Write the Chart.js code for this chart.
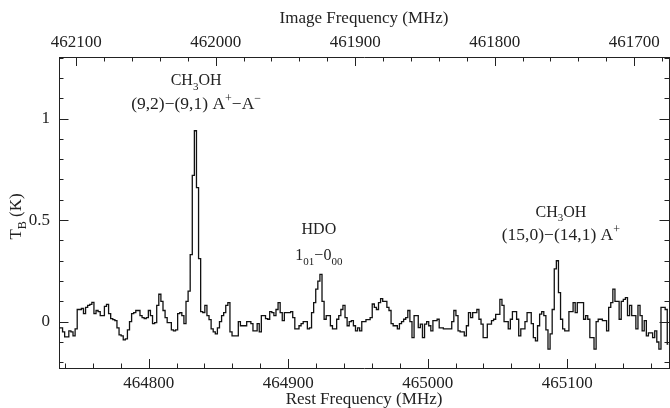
<!DOCTYPE html>
<html>
<head>
<meta charset="utf-8">
<script src="https://cdn.jsdelivr.net/npm/chart.js@4.4.0/dist/chart.umd.min.js"></script>
<style>
  html, body { margin: 0; padding: 0; background: #fff; }
  canvas { display: block; }
</style>
</head>
<body>
<canvas id="spec" width="670" height="408"></canvas>
<script>
// spectrum: brightness temperature per channel (K)
const startFreq = 464736;   // rest frequency of first channel (MHz)
const chanWidth = 1.5;      // MHz
const tb = [
  -0.03, -0.03, -0.05, -0.075, -0.075, -0.045, -0.05, -0.07, -0.035, 0.06,
  0.06, 0.065, 0.04, 0.07, 0.08, 0.085, 0.095, 0.04, 0.055, 0.05,
  0.03, 0.03, 0.075, 0.085, 0.04, 0.015, 0.01, 0.005, -0.03, -0.065,
  -0.07, -0.09, -0.085, -0.04, 0.0, 0.04, 0.045, 0.055, 0.055, 0.03,
  0.02, 0.015, 0.02, 0.055, 0.03, -0.01, -0.005, 0.08, 0.135, 0.1,
  0.055, 0.02, -0.005, -0.005, -0.04, -0.045, -0.04, 0.04, 0.045, 0.03,
  -0.01, 0.1, 0.15, 0.33, 0.72, 0.94, 0.66, 0.31, 0.05, 0.045,
  0.08, 0.03, 0.01, -0.035, -0.05, -0.06, -0.03, 0.0, 0.03, 0.045,
  0.08, 0.094, -0.05, -0.07, -0.07, -0.07, 0.0, -0.02, -0.02, -0.02,
  0.0, 0.0, -0.01, -0.045, -0.045, -0.01, -0.05, 0.03, 0.03, 0.015,
  0.012, 0.05, 0.045, 0.03, 0.06, 0.094, 0.045, 0.005, 0.045, 0.045,
  0.045, 0.05, 0.02, -0.035, -0.035, -0.02, -0.01, 0.0, 0.0, -0.035,
  -0.03, 0.045, 0.094, 0.16, 0.2, 0.233, 0.1, 0.012, 0.03, 0.03,
  -0.02, -0.035, -0.035, 0.012, 0.03, 0.06, 0.08, 0.02, -0.02, 0.0,
  0.005, -0.02, -0.045, -0.03, -0.045, 0.0, 0.0, 0.01, 0.01, 0.02,
  0.087, 0.07, 0.06, 0.094, 0.114, 0.1, 0.1, 0.07, 0.055, -0.01,
  -0.02, -0.02, -0.035, -0.01, 0.0, 0.012, 0.02, 0.055, 0.0, -0.078,
  0.03, 0.03, -0.029, -0.012, -0.078, -0.012, 0.0, -0.02, -0.045, 0.005,
  0.005, 0.012, -0.03, -0.03, -0.035, -0.035, -0.035, -0.035, 0.0, 0.055,
  0.03, -0.045, -0.05, -0.05, -0.07, -0.02, 0.045, 0.02, 0.045, 0.045,
  0.06, 0.012, -0.012, -0.078, -0.078, -0.012, -0.012, 0.005, 0.012, 0.036,
  0.036, 0.11, 0.08, 0.0, 0.0, -0.035, 0.012, 0.05, 0.05, 0.012,
  -0.07, -0.035, -0.035, 0.0, 0.045, 0.045, -0.01, -0.078, -0.094, -0.02,
  0.037, 0.05, 0.03, -0.04, -0.135, -0.06, 0.06, 0.26, 0.30, 0.143,
  0.012, -0.035, -0.045, -0.045, 0.05, 0.05, 0.094, 0.045, 0.094, 0.094,
  0.094, 0.012, 0.03, 0.012, -0.078, -0.078, -0.135, 0.0, 0.012, 0.012,
  0.005, 0.005, -0.045, 0.07, 0.094, 0.16, 0.1, 0.1, 0.012, 0.1,
  0.11, 0.118, 0.03, 0.08, 0.03, 0.03, -0.035, 0.08, 0.03, -0.045,
  0.005, -0.07, -0.055, -0.055, -0.078, -0.045, -0.1, -0.135, 0.07, 0.07,
  0.06, -0.11
];

// axes
const restMin = 464735.7, restMax = 465173;
const imageSum = 926848;          // image freq = imageSum - rest freq
const tbMin = -0.228, tbMax = 1.303;
const restTicks = [464800, 464900, 465000, 465100];
const imageTicks = [462100, 462000, 461900, 461800, 461700];
const tbTicks = [0, 0.5, 1];
const freqMinorStep = 20;
const tbMinorStep = 0.1;

// line identifications
const labelFreq = [464834, 464834, 464922, 464922, 465095.5, 465095.5];
const labelTb = [1.19, 1.074, 0.46, 0.33, 0.543, 0.43];
const labelSize = [16, 17.5, 16, 16, 16, 17.5];
const labelText = [
  [['CH', 'n'], ['3', 'sub'], ['OH', 'n']],
  [['(9,2)\u2212(9,1) A', 'n'], ['+', 'sup'], ['\u2212A', 'n'], ['\u2212', 'sup']],
  [['HDO', 'n']],
  [['1', 'n'], ['01', 'sub'], ['\u22120', 'n'], ['00', 'sub']],
  [['CH', 'n'], ['3', 'sub'], ['OH', 'n']],
  [['(15,0)\u2212(14,1) A', 'n'], ['+', 'sup']]
];

const FONT = 'Liberation Serif';
const INK = '#222';

const points = tb.map((v, i) => ({ x: startFreq + i * chanWidth, y: v }));

function drawRich(ctx, parts, cx, cy, size) {
  const fontFor = s => (s === 'n' ? size : Math.round(size * 0.68)) + 'px "' + FONT + '"';
  let w = 0;
  parts.forEach(([t, s]) => { ctx.font = fontFor(s); w += ctx.measureText(t).width; });
  let x = cx - w / 2;
  ctx.textAlign = 'left';
  ctx.textBaseline = 'alphabetic';
  const base = cy + size * 0.33;
  parts.forEach(([t, s]) => {
    ctx.font = fontFor(s);
    const dy = s === 'sub' ? size * 0.3 : (s === 'sup' ? -size * 0.42 : 0);
    ctx.fillText(t, x, base + dy);
    x += ctx.measureText(t).width;
  });
}

function tickLine(ctx, x1, y1, x2, y2) {
  ctx.beginPath();
  ctx.moveTo(x1, y1);
  ctx.lineTo(x2, y2);
  ctx.stroke();
}

const extras = {
  id: 'extras',
  afterDraw(chart) {
    const ctx = chart.ctx;
    const a = chart.chartArea;
    const xs = chart.scales.x, xt = chart.scales.x2, ys = chart.scales.y;
    ctx.save();
    ctx.strokeStyle = INK;
    ctx.lineWidth = 1;
    // inward ticks, bottom axis
    for (let v = Math.ceil(restMin / freqMinorStep) * freqMinorStep; v <= restMax; v += freqMinorStep) {
      const px = Math.round(xs.getPixelForValue(v)) + 0.5;
      const len = v % 100 === 0 ? 9 : 4.5;
      tickLine(ctx, px, a.bottom, px, a.bottom - len);
    }
    // top axis (image frequency)
    const imgLo = imageSum - restMax, imgHi = imageSum - restMin;
    for (let v = Math.ceil(imgLo / freqMinorStep) * freqMinorStep; v <= imgHi; v += freqMinorStep) {
      const px = Math.round(xt.getPixelForValue(v)) + 0.5;
      const len = v % 100 === 0 ? 9 : 4.5;
      tickLine(ctx, px, a.top, px, a.top + len);
    }
    // left and right
    for (let k = Math.ceil(tbMin / tbMinorStep); k * tbMinorStep <= tbMax; k++) {
      const py = Math.round(ys.getPixelForValue(k * tbMinorStep)) + 0.5;
      const len = k % 5 === 0 ? 9.5 : 4.5;
      tickLine(ctx, a.left, py, a.left + len, py);
      tickLine(ctx, a.right, py, a.right - len, py);
    }
    // line labels
    ctx.fillStyle = INK;
    labelText.forEach((parts, i) => {
      drawRich(ctx, parts, xs.getPixelForValue(labelFreq[i]), ys.getPixelForValue(labelTb[i]), labelSize[i]);
    });
    // y title with subscript
    ctx.translate(15, (a.top + a.bottom) / 2 + 4);
    ctx.rotate(-Math.PI / 2);
    drawRich(ctx, [['T', 'n'], ['B', 'sub'], [' (K)', 'n']], 0, 0, 17);
    ctx.restore();
  }
};

const border = { display: true, color: INK, width: 1 };
const tickFont = { family: FONT, size: 17 };

new Chart(document.getElementById('spec'), {
  type: 'line',
  data: {
    datasets: [{
      data: points,
      xAxisID: 'x',
      yAxisID: 'y',
      stepped: 'middle',
      borderColor: '#111',
      borderWidth: 1.3,
      pointRadius: 0,
      fill: false
    }]
  },
  options: {
    responsive: false,
    animation: false,
    devicePixelRatio: 1,
    layout: { padding: 0 },
    plugins: { legend: { display: false }, tooltip: { enabled: false } },
    scales: {
      x: {
        type: 'linear', position: 'bottom', min: restMin, max: restMax,
        grid: { display: false, drawTicks: false }, border: border,
        ticks: { color: INK, font: tickFont, padding: 5, callback: v => String(v) },
        afterBuildTicks: s => { s.ticks = restTicks.map(v => ({ value: v })); },
        afterFit: s => { s.height = 40; },
        title: { display: true, text: 'Rest Frequency (MHz)', color: INK,
                 font: { family: FONT, size: 17, lineHeight: 1 }, padding: { top: 0, bottom: 0 } }
      },
      x2: {
        type: 'linear', position: 'top', reverse: true,
        min: imageSum - restMax, max: imageSum - restMin,
        grid: { display: false, drawTicks: false }, border: border,
        ticks: { color: INK, font: tickFont, padding: 4, callback: v => String(v) },
        afterBuildTicks: s => { s.ticks = imageTicks.map(v => ({ value: v })); },
        afterFit: s => { s.height = 57; },
        title: { display: true, text: 'Image Frequency (MHz)', color: INK,
                 font: { family: FONT, size: 17 }, padding: { top: 8, bottom: 0 } }
      },
      y: {
        type: 'linear', position: 'left', min: tbMin, max: tbMax,
        grid: { display: false, drawTicks: false }, border: border,
        ticks: { color: INK, font: tickFont, padding: 9, callback: v => String(v) },
        afterBuildTicks: s => { s.ticks = tbTicks.map(v => ({ value: v })); },
        afterFit: s => { s.width = 59; }
      },
      y2: {
        type: 'linear', position: 'right', min: tbMin, max: tbMax,
        grid: { display: false, drawTicks: false }, border: border,
        ticks: { display: false },
        afterFit: s => { s.width = 1; }
      }
    }
  },
  plugins: [extras]
});
</script>
</body>
</html>
